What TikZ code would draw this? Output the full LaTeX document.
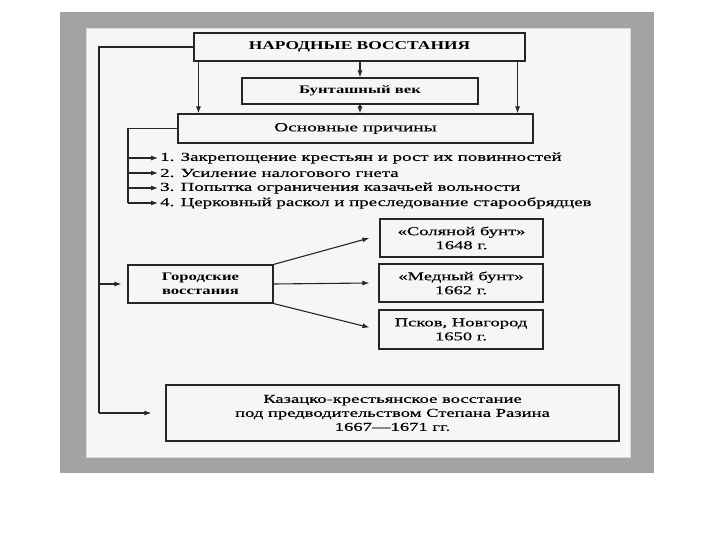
\documentclass[tikz,border=0pt]{standalone}
\usepackage{fontspec}
\setmainfont[FakeStretch=1.55,FakeBold=0.4]{Liberation Serif}
\newfontfamily\boldwide[FakeStretch=1.45]{Liberation Serif}
\usetikzlibrary{arrows.meta,calc}
\definecolor{frameGray}{HTML}{A3A3A3}
\definecolor{panel}{HTML}{F6F6F6}
\tikzset{
  box/.style={draw=black!85, line width=1.1pt, fill=panel, inner sep=0pt, align=center},
  conn/.style={line width=1.1pt, draw=black!85},
  arr/.style={conn, -{Latex[length=7pt,width=5pt]}},
  item/.style={anchor=west, inner sep=0pt, font=\fontsize{12.2}{13}\selectfont},
  boldtxt/.style={font=\boldwide\bfseries\fontsize{#1}{14}\selectfont},
  regtxt/.style={font=\fontsize{#1}{14}\selectfont},
}
\begin{document}
\begin{tikzpicture}[x=1pt,y=-1pt]
\useasboundingbox (0,0) rectangle (720,540);
\fill[white] (0,0) rectangle (720,540);
\fill[frameGray] (60,12) rectangle (654,473);
\fill[panel] (86,28) rectangle (630,457);
\draw[black!15, line width=0.8pt] (86,28) rectangle (630,457);

\node[box, minimum width=331pt, minimum height=28pt, boldtxt=12] (top) at (359.5,47) {НАРОДНЫЕ ВОССТАНИЯ};
\node[box, minimum width=236pt, minimum height=26pt, boldtxt=11.5] (bunt) at (360,91) {Бунташный век};
\node[box, minimum width=355pt, minimum height=29pt, regtxt=12.5] (osn) at (355.5,128.5) {Основные причины};

\node[item] (i1) at (160,158) {1. Закрепощение крестьян и рост их повинностей};
\node[item] (i2) at (160,173) {2. Усиление налогового гнета};
\node[item] (i3) at (160,188) {3. Попытка ограничения казачьей вольности};
\node[item] (i4) at (160,203) {4. Церковный раскол и преследование старообрядцев};

\node[box, minimum width=145pt, minimum height=38pt, boldtxt=11.5] (gor) at (200.5,284) {Городские\\восстания};
\node[box, minimum width=163pt, minimum height=38pt, regtxt=12] (sol) at (461.5,238) {«Соляной бунт»\\1648 г.};
\node[box, minimum width=164pt, minimum height=38pt, regtxt=12] (med) at (461,283) {«Медный бунт»\\1662 г.};
\node[box, minimum width=164pt, minimum height=39pt, regtxt=12] (psk) at (461,329.5) {Псков, Новгород\\1650 г.};
\node[box, minimum width=453pt, minimum height=56pt, regtxt=12] (kaz) at (392.5,413) {Казацко-крестьянское восстание\\под предводительством Степана Разина\\1667---1671 гг.};

% top arrows
\draw[arr] ($(top.south west)+(5,0)$) -- ($(osn.north west)+(21,0)$);
\draw[arr] ($(top.south east)+(-8,0)$) -- ($(osn.north east)+(-16,0)$);
\draw[arr] (top.south -| bunt.north) -- (bunt.north);
\draw[arr] (bunt.south) -- (bunt.south |- osn.north);

% left spine
\coordinate (s1) at (99,47);
\coordinate (s2) at (99,413);
\draw[conn] (top.west) -- (s1) -- (s2);
\draw[arr] (s2) -- ($(kaz.west)+(-14,0)$);
\draw[arr] (99,284) -- ($(gor.west)+(-6,0)$);

% causes spine
\coordinate (c1) at (128,128.5);
\coordinate (c2) at (128,203);
\draw[conn] (osn.west) -- (c1) -- (c2);
\foreach \i in {i1,i2,i3,i4}{
  \draw[arr] (c1 |- \i.west) -- ($(\i.west)+(-2,0)$);
}

% city uprisings fan
\draw[arr] (gor.north east) -- ($(sol.west)+(-10,0)$);
\draw[arr] (gor.east) -- ($(med.west)+(-9,0)$);
\draw[arr] (gor.south east) -- ($(psk.west)+(-9,-2)$);
\end{tikzpicture}
\end{document}
